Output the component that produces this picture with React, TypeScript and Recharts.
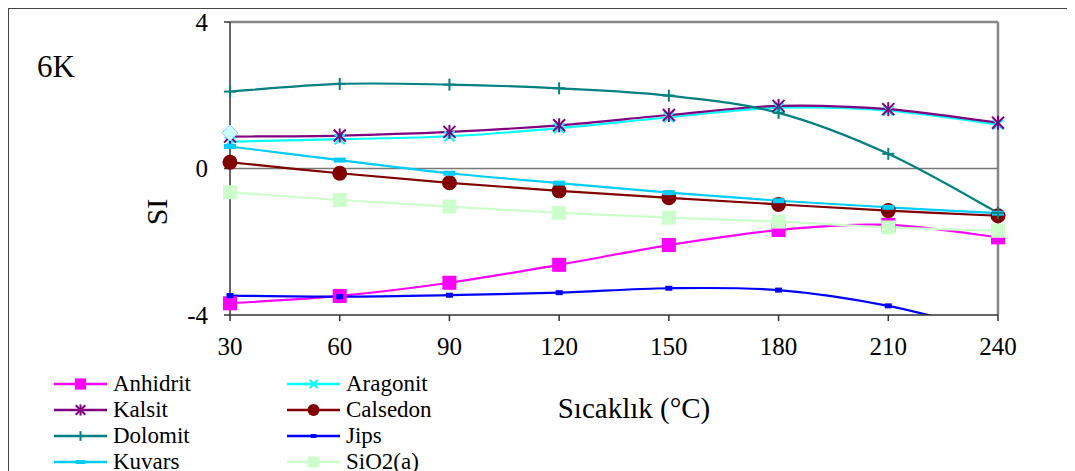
import React from 'react'
import { Line, LineChart, ReferenceLine, XAxis, YAxis } from 'recharts'

const temps = [30, 60, 90, 120, 150, 180, 210, 240]
const tempTicks = [30, 60, 90, 120, 150, 180, 210, 240]
const siTicks = [-4, 0, 4]

const anhidrit = [-3.68, -3.48, -3.12, -2.63, -2.09, -1.68, -1.54, -1.88]
const aragonit = [0.73, 0.8, 0.88, 1.1, 1.4, 1.66, 1.58, 1.2]
const kalsit = [0.87, 0.9, 1.0, 1.18, 1.46, 1.71, 1.62, 1.25]
const calsedon = [0.17, -0.13, -0.39, -0.61, -0.8, -0.98, -1.15, -1.29]
const dolomit = [2.1, 2.31, 2.29, 2.19, 1.99, 1.52, 0.4, -1.21]
const jips = [-3.47, -3.5, -3.46, -3.39, -3.27, -3.32, -3.75, -4.5]
const kuvars = [0.6, 0.23, -0.13, -0.4, -0.66, -0.88, -1.06, -1.22]
const sio2 = [-0.65, -0.86, -1.04, -1.21, -1.34, -1.45, -1.61, -1.7]
const extra = [0.97, null, null, null, null, null, null, null]

const FONT = '"Liberation Serif", "Times New Roman", serif'

type Marker = 'square' | 'x' | 'asterisk' | 'circle' | 'plus' | 'bar' | 'dash' | 'diamond'

type Series = { key: string; name: string; values: (number | null)[]; color: string; marker: Marker; legend: boolean }

const series: Series[] = [
  { key: 'anhidrit', name: 'Anhidrit', values: anhidrit, color: '#ff00ff', marker: 'square', legend: true },
  { key: 'aragonit', name: 'Aragonit', values: aragonit, color: '#00ffff', marker: 'x', legend: true },
  { key: 'kalsit', name: 'Kalsit', values: kalsit, color: '#800080', marker: 'asterisk', legend: true },
  { key: 'calsedon', name: 'Calsedon', values: calsedon, color: '#800000', marker: 'circle', legend: true },
  { key: 'kuvars', name: 'Kuvars', values: kuvars, color: '#00ccff', marker: 'dash', legend: true },
  { key: 'dolomit', name: 'Dolomit', values: dolomit, color: '#008080', marker: 'plus', legend: true },
  { key: 'jips', name: 'Jips', values: jips, color: '#0000ff', marker: 'bar', legend: true },
  { key: 'sio2', name: 'SiO2(a)', values: sio2, color: '#ccffcc', marker: 'square', legend: true },
  { key: 'extra', name: '', values: extra, color: '#ccffff', marker: 'diamond', legend: false },
]

const legendOrder = ['anhidrit', 'aragonit', 'kalsit', 'calsedon', 'dolomit', 'jips', 'kuvars', 'sio2']

const rows = temps.map((t, i) => {
  const row: Record<string, number | null> = { t }
  for (const s of series) row[s.key] = s.values[i]
  return row
})

// Excel-style smoothed line (Catmull-Rom as cubic bezier)
function excelSmooth(context: any) {
  let pts: [number, number][] = []
  return {
    areaStart() {},
    areaEnd() {},
    lineStart() {
      pts = []
    },
    lineEnd() {
      if (!pts.length) return
      context.moveTo(pts[0][0], pts[0][1])
      for (let i = 0; i < pts.length - 1; i++) {
        const p0 = pts[Math.max(0, i - 1)]
        const p1 = pts[i]
        const p2 = pts[i + 1]
        const p3 = pts[Math.min(pts.length - 1, i + 2)]
        context.bezierCurveTo(
          p1[0] + (p2[0] - p0[0]) / 6,
          p1[1] + (p2[1] - p0[1]) / 6,
          p2[0] - (p3[0] - p1[0]) / 6,
          p2[1] - (p3[1] - p1[1]) / 6,
          p2[0],
          p2[1],
        )
      }
    },
    point(x: number, y: number) {
      pts.push([+x, +y])
    },
  }
}

function MarkerShape({ kind, color, cx, cy, s = 1 }: { kind: Marker; color: string; cx: number; cy: number; s?: number }) {
  switch (kind) {
    case 'square':
      return <rect x={cx - 7 * s} y={cy - 7 * s} width={14 * s} height={14 * s} fill={color} />
    case 'circle':
      return <circle cx={cx} cy={cy} r={7.5 * s} fill={color} />
    case 'x':
      return (
        <g stroke={color} strokeWidth={2}>
          <line x1={cx - 5 * s} y1={cy - 5 * s} x2={cx + 5 * s} y2={cy + 5 * s} />
          <line x1={cx - 5 * s} y1={cy + 5 * s} x2={cx + 5 * s} y2={cy - 5 * s} />
        </g>
      )
    case 'asterisk':
      return (
        <g stroke={color} strokeWidth={2}>
          <line x1={cx - 6 * s} y1={cy - 6 * s} x2={cx + 6 * s} y2={cy + 6 * s} />
          <line x1={cx - 6 * s} y1={cy + 6 * s} x2={cx + 6 * s} y2={cy - 6 * s} />
          <line x1={cx} y1={cy - 7 * s} x2={cx} y2={cy + 7 * s} />
        </g>
      )
    case 'plus':
      return (
        <g stroke={color} strokeWidth={2}>
          <line x1={cx - 6 * s} y1={cy} x2={cx + 6 * s} y2={cy} />
          <line x1={cx} y1={cy - 6 * s} x2={cx} y2={cy + 6 * s} />
        </g>
      )
    case 'dash':
      return <rect x={cx - 6 * s} y={cy - 2.5 * s} width={12 * s} height={5 * s} fill={color} />
    case 'bar':
      return <rect x={cx - 3.5 * s} y={cy - 2.5 * s} width={7 * s} height={5 * s} fill={color} />
    case 'diamond':
      return (
        <polygon
          points={`${cx},${cy - 8} ${cx + 8},${cy} ${cx},${cy + 8} ${cx - 8},${cy}`}
          fill={color}
          stroke="#99ccff"
          strokeWidth={1}
        />
      )
  }
  return null
}

function makeDot(s: Series) {
  return (props: any) => {
    const { cx, cy, index } = props
    if (cx == null || cy == null || s.values[index] == null) return <g key={`${s.key}-${index}`} />
    return (
      <g key={`${s.key}-${index}`}>
        <MarkerShape kind={s.marker} color={s.color} cx={cx} cy={cy} />
      </g>
    )
  }
}

function LegendBox() {
  const items = legendOrder.map((k) => series.find((s) => s.key === k)!)
  return (
    <div style={{ position: 'absolute', left: 0, top: 0 }}>
      {items.map((s, i) => {
        const col = i % 2
        const row = Math.floor(i / 2)
        const lx = col === 0 ? 46 : 279
        const cy = 376 + row * 26
        return (
          <div key={s.key} style={{ position: 'absolute', left: lx, top: cy - 14, height: 28, whiteSpace: 'nowrap' }}>
            <svg width={54} height={28} style={{ position: 'absolute', left: 0, top: 0 }}>
              <line x1={0} y1={14} x2={53} y2={14} stroke={s.color} strokeWidth={2.5} />
              <MarkerShape kind={s.marker} color={s.color} cx={26.5} cy={14} s={0.8} />
            </svg>
            <span
              style={{
                position: 'absolute',
                left: 59,
                top: 0,
                lineHeight: '28px',
                fontFamily: FONT,
                fontSize: 23,
                color: '#000',
              }}
            >
              {s.name}
            </span>
          </div>
        )
      })}
    </div>
  )
}

export default function App() {
  const tickStyle = { fill: '#000', fontSize: 25, fontFamily: 'Liberation Serif' }
  return (
    <div style={{ position: 'relative', width: 1067, height: 463, fontFamily: FONT }}>
      <div
        style={{
          position: 'absolute',
          left: 0,
          top: 0,
          width: 1067,
          height: 463,
          borderLeft: '1.5px solid #444',
          borderTop: '1.5px solid #444',
          boxSizing: 'border-box',
        }}
      />
      <LineChart width={1067} height={463} data={rows} margin={{ top: 14, right: 77, left: 162, bottom: 116 }}>
        <XAxis
          dataKey="t"
          type="number"
          domain={[30, 240]}
          ticks={tempTicks}
          tick={tickStyle}
          tickSize={6}
          tickMargin={16}
          height={40}
          stroke="#333"
          strokeWidth={1.5}
        />
        <YAxis
          yAxisId="si"
          domain={[-4, 4]}
          ticks={siTicks}
          tick={tickStyle}
          tickSize={6}
          tickMargin={16}
          width={60}
          stroke="#333"
          strokeWidth={1.5}
        />
        <YAxis yAxisId="clip" domain={[-4, 4]} allowDataOverflow hide width={0} />
        <ReferenceLine yAxisId="si" y={4} stroke="#888" strokeWidth={2.5} />
        <ReferenceLine yAxisId="si" x={240} stroke="#888" strokeWidth={2.5} />
        <ReferenceLine yAxisId="si" y={0} stroke="#777" strokeWidth={1.3} />
        {series.map((s) => (
          <Line
            key={s.key}
            yAxisId={s.key === 'jips' ? 'clip' : 'si'}
            dataKey={s.key}
            name={s.name}
            type={excelSmooth as any}
            stroke={s.color}
            strokeWidth={2.2}
            dot={makeDot(s)}
            activeDot={false}
            connectNulls={false}
            isAnimationActive={false}
          />
        ))}
      </LineChart>
      <div
        style={{
          position: 'absolute',
          left: 29,
          top: 39,
          fontFamily: FONT,
          fontSize: 31,
          color: '#000',
          lineHeight: '40px',
        }}
      >
        6K
      </div>
      <div
        style={{
          position: 'absolute',
          left: 149 - 40,
          top: 204 - 20,
          width: 80,
          height: 40,
          lineHeight: '40px',
          textAlign: 'center',
          transform: 'rotate(-90deg)',
          fontFamily: FONT,
          fontSize: 30,
          color: '#000',
        }}
      >
        SI
      </div>
      <div
        style={{
          position: 'absolute',
          left: 626 - 150,
          top: 382,
          width: 300,
          textAlign: 'center',
          lineHeight: '36px',
          fontFamily: FONT,
          fontSize: 29,
          color: '#000',
        }}
      >
        Sıcaklık (°C)
      </div>
      <LegendBox />
    </div>
  )
}
